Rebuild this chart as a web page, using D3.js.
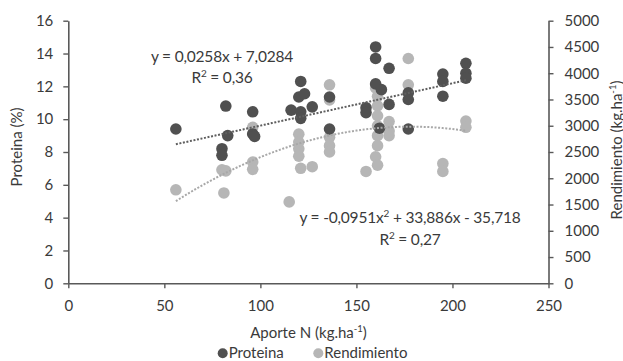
<!DOCTYPE html>
<html>
<head>
<meta charset="utf-8">
<script src="https://cdn.jsdelivr.net/npm/d3@7"></script>
<style>
  html, body { margin: 0; padding: 0; background: #fff; }
  svg text { font-family: Lato, "Open Sans", sans-serif; fill: #3a3a3a; }
</style>
</head>
<body>
<svg id="chart" width="623" height="361"></svg>
<script>
// Nitrogen supply (kg/ha) vs protein (%)
const proteinaN = [56, 82, 83, 80, 80, 96, 96, 97, 116, 121, 120, 123, 121, 121, 127, 136, 136,
  155, 155, 160, 160, 167, 160, 163, 167, 162, 177, 177, 177, 195, 195, 195, 207, 207, 207];
const proteinaPct = [9.4, 10.8, 9.0, 8.2, 7.8, 10.45, 9.1, 8.95, 10.55, 12.3, 11.35, 11.55, 10.45, 10.05, 10.75, 11.35, 9.4,
  10.7, 10.4, 14.4, 13.7, 13.1, 12.15, 11.8, 10.9, 9.45, 11.6, 11.2, 9.4, 12.75, 12.3, 11.4, 13.4, 12.8, 12.5];

// Nitrogen supply (kg/ha) vs yield (kg/ha)
const rendN = [56, 81, 80, 82, 96, 96, 96, 115, 120, 120, 120, 120, 121, 127, 136, 136, 136, 136, 136,
  155, 160, 161, 161, 161, 161, 161, 161, 160, 161, 167, 167, 167, 177, 177, 195, 195, 207, 207];
const rendKg = [1780, 1720, 2160, 2140, 2970, 2310, 2170, 1550, 2840, 2690, 2560, 2420, 2190, 2220, 3780, 3490, 2780, 2620, 2500,
  2130, 3720, 3560, 3380, 3190, 3000, 2810, 2620, 2410, 2250, 3080, 2900, 2810, 4280, 3780, 2280, 2130, 3090, 2970];

// Axis ticks
const xTicks = [0, 50, 100, 150, 200, 250];
const yLeftTicks = [0, 2, 4, 6, 8, 10, 12, 14, 16];
const yRightTicks = [0, 500, 1000, 1500, 2000, 2500, 3000, 3500, 4000, 4500, 5000];

// Fitted trend coefficients
const linCoef = [0.0258, 7.0284];             // slope, intercept
const quadCoef = [-0.0951, 33.886, -35.718];  // a, b, c
const trendRange = [56, 207];

const svg = d3.select("#chart");
const plotLeft = 68.3, plotRight = 548.5, plotTop = 20.7, plotBottom = 283.3;
const fs = 15;

const x = d3.scaleLinear().domain([0, 250]).range([plotLeft, plotRight]);
const yL = d3.scaleLinear().domain([0, 16]).range([plotBottom, plotTop]);
const yR = d3.scaleLinear().domain([0, 5000]).range([plotBottom, plotTop]);

const axisColor = "#595959";
const darkCol = "#505050";
const lightCol = "#b6b6b6";

// Axes
function styleAxis(g) {
  g.selectAll("path").attr("stroke", axisColor).attr("stroke-width", 1.6);
  g.selectAll("line").attr("stroke", axisColor).attr("stroke-width", 1.4);
  g.selectAll("text").attr("font-size", fs).attr("fill", "#3a3a3a");
}

svg.append("g").attr("transform", `translate(0,${plotBottom})`)
  .call(d3.axisBottom(x).tickValues(xTicks).tickSize(5).tickSizeOuter(0).tickPadding(12))
  .call(styleAxis);

svg.append("g").attr("transform", `translate(${plotLeft},0)`)
  .call(d3.axisLeft(yL).tickValues(yLeftTicks).tickSize(5).tickSizeOuter(0).tickPadding(10))
  .call(styleAxis);

svg.append("g").attr("transform", `translate(${plotRight},0)`)
  .call(d3.axisRight(yR).tickValues(yRightTicks).tickFormat(d3.format("d"))
    .tickSize(5).tickSizeOuter(0).tickPadding(11))
  .call(styleAxis);

svg.selectAll(".domain").attr("fill", "none");

// Points: yield on secondary axis, protein on primary
const r = 5.8;
svg.append("g").selectAll("circle").data(d3.zip(rendN, rendKg)).join("circle")
  .attr("cx", d => x(d[0])).attr("cy", d => yR(d[1])).attr("r", r).attr("fill", lightCol);

svg.append("g").selectAll("circle").data(d3.zip(proteinaN, proteinaPct)).join("circle")
  .attr("cx", d => x(d[0])).attr("cy", d => yL(d[1])).attr("r", r).attr("fill", darkCol);

// Trend lines
const steps = d3.range(trendRange[0], trendRange[1] + 0.01, 1);
const linLine = d3.line().x(d => x(d)).y(d => yL(linCoef[0] * d + linCoef[1]));
const quadLine = d3.line().x(d => x(d)).y(d => yR(quadCoef[0] * d * d + quadCoef[1] * d + quadCoef[2]));

svg.append("path").attr("d", quadLine(steps)).attr("fill", "none")
  .attr("stroke", "#a8a8a8").attr("stroke-width", 2).attr("stroke-dasharray", "2,1.6");
svg.append("path").attr("d", linLine(steps)).attr("fill", "none")
  .attr("stroke", "#5f5f5f").attr("stroke-width", 2).attr("stroke-dasharray", "2,1.6");

// Equations
function eq(cx, cy, parts) {
  const t = svg.append("text").attr("x", cx).attr("y", cy).attr("text-anchor", "middle")
    .attr("font-size", 15.5).attr("letter-spacing", -0.2);
  parts.forEach(p => {
    if (p.sup) t.append("tspan").attr("dy", -6).attr("font-size", 10).text(p.t);
    else if (p.after) t.append("tspan").attr("dy", 6).text(p.t);
    else t.append("tspan").text(p.t);
  });
}
eq(222, 62, [{ t: "y = 0,0258x + 7,0284" }]);
eq(222, 83, [{ t: "R" }, { t: "2", sup: true }, { t: " = 0,36", after: true }]);
eq(410, 222.5, [{ t: "y = -0,0951x" }, { t: "2", sup: true }, { t: " + 33,886x - 35,718", after: true }]);
eq(410, 245, [{ t: "R" }, { t: "2", sup: true }, { t: " = 0,27", after: true }]);

// Axis titles
const xt = svg.append("text").attr("x", 308.5).attr("y", 338.3).attr("text-anchor", "middle").attr("font-size", fs);
xt.append("tspan").text("Aporte N (kg.ha");
xt.append("tspan").attr("dy", -6).attr("font-size", 9.5).text("-1");
xt.append("tspan").attr("dy", 6).text(")");

svg.append("text").attr("transform", "translate(22,147) rotate(-90)")
  .attr("text-anchor", "middle").attr("font-size", fs).text("Proteina (%)");

const rt = svg.append("text").attr("transform", "translate(621.5,150) rotate(-90)")
  .attr("text-anchor", "middle").attr("font-size", fs);
rt.append("tspan").text("Rendimiento (kg.ha");
rt.append("tspan").attr("dy", -6).attr("font-size", 9.5).text("-1");
rt.append("tspan").attr("dy", 6).text(")");

// Legend
const legend = [{ name: "Proteina", col: darkCol, x: 222.7 }, { name: "Rendimiento", col: lightCol, x: 318.3 }];
const lg = svg.append("g");
legend.forEach(l => {
  lg.append("circle").attr("cx", l.x).attr("cy", 353.3).attr("r", 5).attr("fill", l.col);
  lg.append("text").attr("x", l.x + 6).attr("y", 358.3).attr("font-size", fs).text(l.name);
});
</script>
</body>
</html>
